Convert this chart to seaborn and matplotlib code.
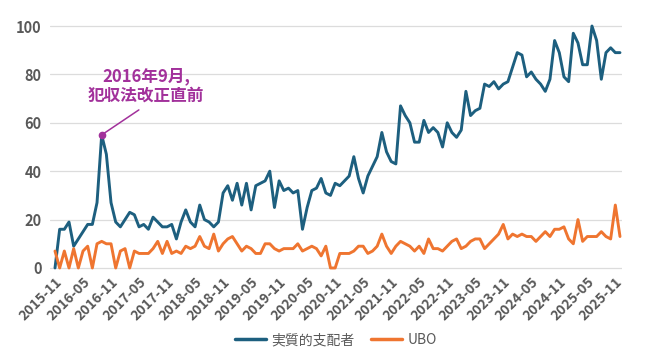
import numpy as np
import pandas as pd
import matplotlib
matplotlib.use("Agg")
import matplotlib.pyplot as plt
import seaborn as sns

# monthly counts, 2015-11 .. 2025-12
months = pd.date_range("2015-11-01", "2025-12-01", freq="MS").strftime("%Y-%m").tolist()

jissitsu = [
    0, 16, 16, 19, 9, 12, 15, 18, 18, 27,
    55, 47, 27, 19, 17, 20, 23, 22, 17, 18,
    16, 21, 19, 17, 17, 18, 12, 19, 24, 19,
    17, 26, 20, 19, 17, 19, 31, 34, 28, 35,
    26, 35, 24, 34, 35, 36, 40, 25, 36, 32,
    33, 31, 32, 16, 25, 32, 33, 37, 31, 30,
    35, 34, 36, 38, 46, 37, 31, 38, 42, 46,
    56, 48, 44, 43, 67, 63, 60, 52, 52, 61,
    56, 58, 56, 50, 60, 56, 54, 57, 73, 63,
    65, 66, 76, 75, 77, 74, 76, 77, 83, 89,
    88, 79, 81, 78, 76, 73, 78, 94, 89, 79,
    77, 97, 93, 84, 84, 100, 94, 78, 89, 91,
    89, 89,
]

ubo = [
    7, 0, 7, 0, 8, 0, 7, 9, 0, 10,
    11, 10, 10, 0, 7, 8, 0, 7, 6, 6,
    6, 8, 11, 6, 11, 6, 7, 6, 9, 8,
    9, 13, 9, 8, 14, 7, 10, 12, 13, 10,
    7, 9, 8, 6, 6, 10, 10, 8, 7, 8,
    8, 8, 10, 7, 8, 9, 8, 5, 9, 0,
    0, 6, 6, 6, 7, 9, 9, 6, 7, 9,
    14, 9, 6, 9, 11, 10, 9, 7, 9, 6,
    12, 8, 8, 7, 9, 11, 12, 8, 9, 11,
    12, 12, 8, 10, 12, 14, 18, 12, 14, 13,
    14, 13, 13, 11, 13, 15, 13, 16, 16, 17,
    12, 10, 20, 11, 13, 13, 13, 15, 13, 12,
    26, 13,
]

series_names = ["実質的支配者", "UBO"]
colors = {"実質的支配者": "#1d5f7f", "UBO": "#ef7530"}

tick_labels = months[::6]  # 2015-11, 2016-05, ... 2025-11

peak_month = "2016-09"
peak_text = "2016年9月,\n犯収法改正直前"
purple = "#a2319b"
gray = "#595959"

df = pd.DataFrame({"idx": np.arange(len(months)), "month": months,
                   series_names[0]: jissitsu, series_names[1]: ubo})
long = df.melt(id_vars=["idx", "month"], value_vars=series_names,
               var_name="series", value_name="count")

sns.set_style("white")
plt.rcParams["font.family"] = ["Noto Sans CJK JP", "DejaVu Sans"]

fig = plt.figure(figsize=(6.46, 3.6), dpi=100)
ax = fig.add_axes([50 / 646, 1 - 270.4 / 360, 572 / 646, (270.4 - 23.6) / 360])

sns.lineplot(data=long, x="idx", y="count", hue="series", hue_order=series_names,
             palette=colors, linewidth=2.1, ax=ax, legend=True)

ax.set_xlim(-1.07, len(months) - 1 + 0.43)
ax.set_ylim(-1, 101)
ax.set_yticks(range(0, 101, 20))
ax.yaxis.grid(True, color="#dcdcdc", linewidth=0.9)
ax.xaxis.grid(False)
for s in ax.spines.values():
    s.set_visible(False)

ticks = [months.index(m) for m in tick_labels]
ax.set_xticks(ticks)
ax.set_xticklabels(tick_labels, rotation=45, ha="right", rotation_mode="anchor",
                   fontsize=10, color=gray)
ax.tick_params(axis="y", labelsize=10.5, labelcolor=gray, length=0, pad=6)
ax.tick_params(axis="x", length=0, pad=3)
for t in ax.get_yticklabels():
    t.set_fontweight("bold")
for t in ax.get_xticklabels():
    t.set_fontweight("bold")
ax.set_xlabel("")
ax.set_ylabel("")

# annotation on the peak
pi = months.index(peak_month)
pv = jissitsu[pi]
ax.plot([pi], [pv], marker="o", markersize=4.5, color=purple, zorder=5)
ax.annotate(peak_text, xy=(pi, pv), xytext=(19.5, 75.2), ha="center", va="center",
            fontsize=12, fontweight="bold", color=purple, linespacing=1.15,
            arrowprops=dict(arrowstyle="-", color=purple, lw=1.1,
                            relpos=(0.5, 0.0), shrinkA=2, shrinkB=0))

leg = ax.legend(loc="center", bbox_to_anchor=(0.5, (360 - 340 - (360 - 270.4)) / (270.4 - 23.6)),
                ncol=2, frameon=False, fontsize=10, handlelength=2.2,
                columnspacing=1.2, handletextpad=0.4)
for t in leg.get_texts():
    t.set_color(gray)
for l in leg.get_lines():
    l.set_linewidth(2.5)

fig.savefig("out.png", dpi=100)
